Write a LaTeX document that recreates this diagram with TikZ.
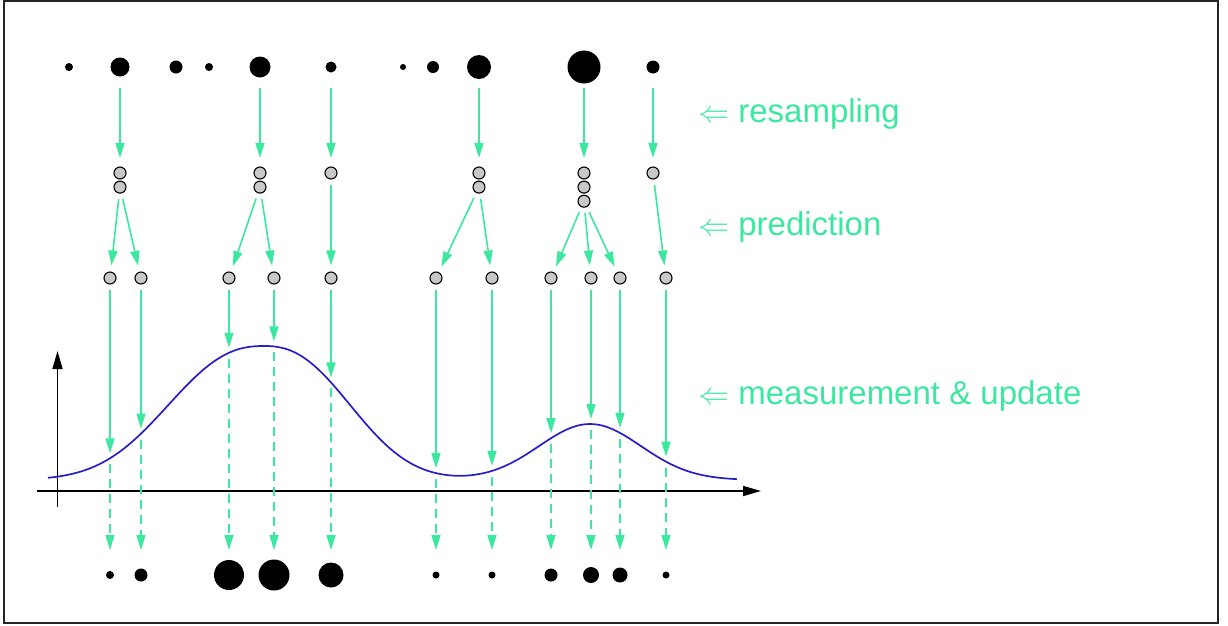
\documentclass[tikz,border=0pt]{standalone}
\usepackage{graphicx}
\usepackage{fontspec}
\newfontfamily\lblfont{Liberation Sans}
\usepackage{tikz}
\usetikzlibrary{arrows.meta, positioning}
\definecolor{mint}{RGB}{60,232,160}
\definecolor{curveblue}{RGB}{40,30,200}
\definecolor{particlegray}{RGB}{200,200,200}
\newcommand{\stepmark}{\resizebox{31pt}{!}{$\Leftarrow$}}

\begin{document}
\begin{tikzpicture}[
    x=1pt, y=-1pt,
    declare function={lik(\t)=480-134*exp(-1*pow((abs(\t-264)+0.001)/((\t<264)?120:108),2.4))-56*exp(-1*pow((\t-590)/72,2));},
    wdot/.style={circle, fill=black, inner sep=0pt, minimum size=#1},
    pdot/.style={circle, draw=black, line width=1.1pt, fill=particlegray, inner sep=0pt, minimum size=12pt},
    arrow/.style={-{Triangle[length=15pt, width=9pt]}, draw=mint, line width=1.6pt},
    resample/.style={arrow, shorten <=21pt, shorten >=8.5pt},
    predict/.style={arrow, shorten <=12pt, shorten >=6pt},
    measure/.style={arrow, shorten <=12pt, shorten >=5pt},
    weigh/.style={arrow, dash pattern=on 9pt off 6pt, shorten <=6pt, shorten >=25pt},
    axis/.style={-{Triangle[length=18pt, width=10pt]}, line width=1.6pt},
    lbl/.style={anchor=base west, inner sep=0pt, text=mint, font=\lblfont\fontsize{33}{40}\selectfont}
]
    \useasboundingbox (0,0) rectangle (1228,625);
    \draw[line width=2pt, black!85] (4.3,1) rectangle (1217.5,623);

    % weighted particles before resampling
    \node[wdot=8pt] (t1) at (69,67) {};
    \node[wdot=19pt] (t2) at (120,67) {};
    \node[wdot=13pt] (t3) at (176,67) {};
    \node[wdot=8pt] (t4) at (209,67) {};
    \node[wdot=21pt] (t5) at (260,67) {};
    \node[wdot=11pt] (t6) at (331,67) {};
    \node[wdot=6pt] (t7) at (403,67) {};
    \node[wdot=12pt] (t8) at (433,67) {};
    \node[wdot=24pt] (t9) at (479,67) {};
    \node[wdot=33pt] (t10) at (584,67) {};
    \node[wdot=13pt] (t11) at (653,67) {};

    % resampled particles
    \node[pdot] (s1a) at (120,173) {};
    \node[pdot, below=1pt of s1a] (s1b) {};
    \node[pdot] (s2a) at (260,173) {};
    \node[pdot, below=1pt of s2a] (s2b) {};
    \node[pdot] (s3a) at (331,173) {};
    \node[pdot] (s4a) at (479,173) {};
    \node[pdot, below=1pt of s4a] (s4b) {};
    \node[pdot] (s5a) at (584,173) {};
    \node[pdot, below=1pt of s5a] (s5b) {};
    \node[pdot, below=1pt of s5b] (s5c) {};
    \node[pdot] (s6a) at (653,173) {};

    % predicted particles
    \node[pdot] (p1) at (110,278) {};
    \node[pdot] (p2) at (141,278) {};
    \node[pdot] (p3) at (229,278) {};
    \node[pdot] (p4) at (274,278) {};
    \node[pdot] (p5) at (331,278) {};
    \node[pdot] (p6) at (436,278) {};
    \node[pdot] (p7) at (492,278) {};
    \node[pdot] (p8) at (551,278) {};
    \node[pdot] (p9) at (591,278) {};
    \node[pdot] (p10) at (620,278) {};
    \node[pdot] (p11) at (666,278) {};

    % points on the likelihood
    \coordinate (c1) at (110,{lik(110)});
    \coordinate (c2) at (141,{lik(141)});
    \coordinate (c3) at (229,{lik(229)});
    \coordinate (c4) at (274,{lik(274)});
    \coordinate (c5) at (331,{lik(331)});
    \coordinate (c6) at (436,{lik(436)});
    \coordinate (c7) at (492,{lik(492)});
    \coordinate (c8) at (551,{lik(551)});
    \coordinate (c9) at (591,{lik(591)});
    \coordinate (c10) at (620,{lik(620)});
    \coordinate (c11) at (666,{lik(666)});

    % updated weights
    \node[wdot=8pt] (b1) at (110,575) {};
    \node[wdot=13pt] (b2) at (141,575) {};
    \node[wdot=30pt] (b3) at (229,575) {};
    \node[wdot=31pt] (b4) at (274,575) {};
    \node[wdot=25pt] (b5) at (331,575) {};
    \node[wdot=7pt] (b6) at (436,575) {};
    \node[wdot=7pt] (b7) at (492,575) {};
    \node[wdot=13pt] (b8) at (551,575) {};
    \node[wdot=16pt] (b9) at (591,575) {};
    \node[wdot=15pt] (b10) at (620,575) {};
    \node[wdot=7pt] (b11) at (666,575) {};

    % axes and likelihood
    \coordinate (ybot) at (57.5,507);
    \coordinate (ytop) at (57.5,351);
    \coordinate (xl) at (37,491);
    \coordinate (xr) at (761,491);
    \draw[axis] (ybot) -- (ytop);
    \draw[axis] (xl) -- (xr);
    \draw[curveblue, line width=1.7pt] plot[domain=48:737, samples=160, smooth] (\x,{lik(\x)});

    \draw[resample] (t2.center) -- (s1a);
    \draw[resample] (t5.center) -- (s2a);
    \draw[resample] (t6.center) -- (s3a);
    \draw[resample] (t9.center) -- (s4a);
    \draw[resample] (t10.center) -- (s5a);
    \draw[resample] (t11.center) -- (s6a);

    \draw[predict] (s1b.center) -- (p1);
    \draw[predict] (s1b.center) -- (p2);
    \draw[predict] (s2b.center) -- (p3);
    \draw[predict] (s2b.center) -- (p4);
    \draw[predict] (s3a.center) -- (p5);
    \draw[predict] (s4b.center) -- (p6);
    \draw[predict] (s4b.center) -- (p7);
    \draw[predict] (s5c.center) -- (p8);
    \draw[predict] (s5c.center) -- (p9);
    \draw[predict] (s5c.center) -- (p10);
    \draw[predict] (s6a.center) -- (p11);

    \draw[measure] (p1.center) -- (c1);
    \draw[measure] (p2.center) -- (c2);
    \draw[measure] (p3.center) -- (c3);
    \draw[measure] (p4.center) -- (c4);
    \draw[measure] (p5.center) -- (c5);
    \draw[measure] (p6.center) -- (c6);
    \draw[measure] (p7.center) -- (c7);
    \draw[measure] (p8.center) -- (c8);
    \draw[measure] (p9.center) -- (c9);
    \draw[measure] (p10.center) -- (c10);
    \draw[measure] (p11.center) -- (c11);

    \draw[weigh] (c1) -- (b1.center);
    \draw[weigh] (c2) -- (b2.center);
    \draw[weigh] (c3) -- (b3.center);
    \draw[weigh] (c4) -- (b4.center);
    \draw[weigh] (c5) -- (b5.center);
    \draw[weigh] (c6) -- (b6.center);
    \draw[weigh] (c7) -- (b7.center);
    \draw[weigh] (c8) -- (b8.center);
    \draw[weigh] (c9) -- (b9.center);
    \draw[weigh] (c10) -- (b10.center);
    \draw[weigh] (c11) -- (b11.center);

    % step labels
    \node[lbl] (lres) at (698,122) {\stepmark{} resampling};
    \node[lbl] (lpred) at (698,235) {\stepmark{} prediction};
    \node[lbl] (lmeas) at (698,404) {\stepmark{} measurement \& update};
\end{tikzpicture}
\end{document}
